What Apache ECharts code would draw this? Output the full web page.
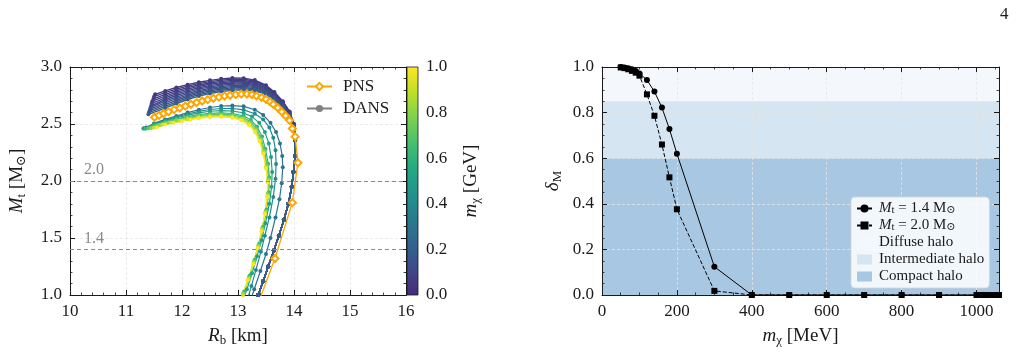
<!DOCTYPE html>
<html>
<head>
<meta charset="utf-8">
<script src="https://cdn.jsdelivr.net/npm/echarts@6/dist/echarts.min.js"></script>
<style>
  html, body { margin: 0; padding: 0; background: #fff; }
  #chart { width: 1021px; height: 356px; }
</style>
</head>
<body>
<div id="chart"></div>
<script>
// ---------- left panel: M_t vs R_b ----------
// dark-matter particle mass of each DANS curve [GeV]
const dansMass = [0.05, 0.06, 0.07, 0.08, 0.09, 0.10, 0.12, 0.14, 0.16, 0.18, 0.20,
                  0.30, 0.40, 0.50, 0.60, 0.70, 0.80, 0.90, 1.00];

// [R_b km, M_t Msun], upper branch of the halo curves (m <= 0.2 GeV)
const dans005 = [[11.52,2.76],[11.7,2.79],[11.9,2.82],[12.1,2.845],[12.3,2.866],[12.5,2.883],[12.7,2.896],[12.9,2.904],[13.1,2.902],[13.3,2.885],[13.5,2.84],[13.65,2.78],[13.8,2.70],[13.92,2.61],[14.0,2.50]];
const dans006 = [[11.50,2.74],[11.7,2.775],[11.9,2.806],[12.1,2.832],[12.3,2.854],[12.5,2.872],[12.7,2.885],[12.9,2.893],[13.1,2.892],[13.3,2.876],[13.5,2.832],[13.65,2.773],[13.8,2.694],[13.92,2.605],[14.0,2.497]];
const dans007 = [[11.49,2.72],[11.7,2.76],[11.9,2.792],[12.1,2.819],[12.3,2.842],[12.5,2.86],[12.7,2.874],[12.9,2.882],[13.1,2.882],[13.3,2.866],[13.5,2.824],[13.65,2.766],[13.8,2.688],[13.92,2.60],[14.0,2.494]];
const dans008 = [[11.47,2.70],[11.7,2.745],[11.9,2.778],[12.1,2.806],[12.3,2.83],[12.5,2.849],[12.7,2.863],[12.9,2.871],[13.1,2.871],[13.3,2.857],[13.5,2.816],[13.65,2.759],[13.8,2.682],[13.92,2.595],[14.0,2.491]];
const dans009 = [[11.46,2.68],[11.7,2.73],[11.9,2.764],[12.1,2.793],[12.3,2.818],[12.5,2.837],[12.7,2.852],[12.9,2.86],[13.1,2.861],[13.3,2.847],[13.5,2.808],[13.65,2.752],[13.8,2.676],[13.92,2.59],[14.0,2.488]];
const dans010 = [[11.45,2.66],[11.7,2.715],[11.9,2.75],[12.1,2.78],[12.3,2.806],[12.5,2.826],[12.7,2.841],[12.9,2.85],[13.1,2.851],[13.3,2.838],[13.5,2.80],[13.65,2.745],[13.8,2.67],[13.92,2.585],[14.0,2.485]];
const dans012 = [[11.44,2.645],[11.7,2.70],[11.9,2.736],[12.1,2.767],[12.3,2.793],[12.5,2.814],[12.7,2.829],[12.9,2.839],[13.1,2.841],[13.3,2.828],[13.5,2.792],[13.65,2.738],[13.8,2.664],[13.92,2.58],[14.0,2.482]];
const dans014 = [[11.43,2.63],[11.7,2.685],[11.9,2.722],[12.1,2.754],[12.3,2.781],[12.5,2.803],[12.7,2.818],[12.9,2.828],[13.1,2.831],[13.3,2.819],[13.5,2.784],[13.65,2.731],[13.8,2.658],[13.92,2.575],[14.0,2.479]];
const dans016 = [[11.42,2.615],[11.7,2.67],[11.9,2.708],[12.1,2.741],[12.3,2.769],[12.5,2.791],[12.7,2.807],[12.9,2.817],[13.1,2.82],[13.3,2.809],[13.5,2.776],[13.65,2.724],[13.8,2.652],[13.92,2.57],[14.0,2.476]];
const dans018 = [[11.41,2.60],[11.7,2.655],[11.9,2.694],[12.1,2.728],[12.3,2.757],[12.5,2.78],[12.7,2.796],[12.9,2.806],[13.1,2.81],[13.3,2.80],[13.5,2.768],[13.65,2.717],[13.8,2.646],[13.92,2.565],[14.0,2.473]];
const dans020 = [[11.40,2.585],[11.7,2.64],[11.9,2.68],[12.1,2.715],[12.3,2.745],[12.5,2.768],[12.7,2.785],[12.9,2.795],[13.1,2.80],[13.3,2.79],[13.5,2.76],[13.65,2.71],[13.8,2.64],[13.92,2.56],[14.0,2.47]];
// lower branch shared by the light-particle curves (they overlap there)
const haloLowerBranch = [[14.02,2.36],[14.02,2.22],[13.99,2.08],[13.96,1.95],[13.90,1.80],[13.82,1.66],[13.73,1.52],[13.64,1.39],[13.54,1.25],[13.45,1.12],[13.36,1.00],[13.26,0.88]];

// core-like curves (m >= 0.3 GeV)
const dans030 = [[11.36,2.47],[11.5,2.505],[11.7,2.54],[11.9,2.57],[12.1,2.60],[12.3,2.625],[12.5,2.645],[12.7,2.658],[12.9,2.662],[13.1,2.655],[13.3,2.625],[13.45,2.58],[13.58,2.51],[13.68,2.43],[13.75,2.33],[13.79,2.22],[13.80,2.12],[13.78,1.98],[13.74,1.84],[13.67,1.68],[13.58,1.50],[13.50,1.36],[13.40,1.21],[13.29,1.05],[13.22,0.95]];
const dans040 = [[11.32,2.462],[11.5,2.50],[11.7,2.533],[11.9,2.562],[12.1,2.588],[12.3,2.61],[12.5,2.627],[12.7,2.636],[12.9,2.636],[13.1,2.624],[13.3,2.59],[13.45,2.54],[13.56,2.47],[13.63,2.38],[13.67,2.27],[13.68,2.15],[13.67,2.02],[13.63,1.86],[13.56,1.68],[13.48,1.52],[13.41,1.38],[13.32,1.22],[13.24,1.08],[13.18,0.98]];
const dans050 = [[11.31,2.46],[11.5,2.497],[11.7,2.528],[11.9,2.555],[12.1,2.578],[12.3,2.598],[12.5,2.612],[12.7,2.618],[12.9,2.614],[13.1,2.597],[13.25,2.565],[13.38,2.51],[13.48,2.43],[13.55,2.33],[13.59,2.21],[13.61,2.08],[13.60,1.95],[13.56,1.80],[13.49,1.63],[13.42,1.48],[13.34,1.34],[13.25,1.19],[13.16,1.05],[13.09,0.96]];
const dans060 = [[11.35,2.458],[11.5,2.49],[11.7,2.52],[11.9,2.545],[12.1,2.566],[12.3,2.583],[12.5,2.594],[12.7,2.598],[12.9,2.592],[13.1,2.572],[13.23,2.535],[13.34,2.475],[13.43,2.39],[13.49,2.28],[13.54,2.15],[13.56,2.03],[13.55,1.90],[13.51,1.75],[13.45,1.60],[13.38,1.45],[13.30,1.31],[13.21,1.17],[13.11,1.03],[13.05,0.94]];
const dans070 = [[11.40,2.462],[11.55,2.49],[11.7,2.513],[11.9,2.538],[12.1,2.558],[12.3,2.574],[12.5,2.584],[12.7,2.587],[12.9,2.580],[13.1,2.558],[13.22,2.52],[13.33,2.46],[13.41,2.375],[13.47,2.27],[13.52,2.14],[13.55,2.02],[13.54,1.89],[13.50,1.74],[13.44,1.59],[13.37,1.44],[13.29,1.30],[13.20,1.16],[13.10,1.02],[13.04,0.93]];
const dans080 = [[11.45,2.466],[11.6,2.492],[11.75,2.512],[11.9,2.53],[12.1,2.55],[12.3,2.565],[12.5,2.575],[12.7,2.578],[12.9,2.57],[13.1,2.547],[13.21,2.508],[13.32,2.45],[13.40,2.365],[13.46,2.26],[13.51,2.13],[13.54,2.01],[13.53,1.88],[13.49,1.73],[13.43,1.58],[13.36,1.43],[13.28,1.29],[13.19,1.15],[13.09,1.01],[13.02,0.92]];
const dans090 = [[11.50,2.47],[11.65,2.495],[11.8,2.513],[11.95,2.528],[12.1,2.542],[12.3,2.557],[12.5,2.567],[12.7,2.57],[12.9,2.562],[13.08,2.538],[13.2,2.50],[13.31,2.44],[13.39,2.355],[13.45,2.25],[13.50,2.12],[13.535,2.0],[13.525,1.87],[13.485,1.72],[13.425,1.57],[13.36,1.42],[13.28,1.28],[13.19,1.14],[13.09,1.0],[13.02,0.91]];
const dans100 = [[11.55,2.472],[11.7,2.495],[11.85,2.512],[12.0,2.526],[12.15,2.538],[12.3,2.55],[12.5,2.56],[12.7,2.563],[12.9,2.555],[13.06,2.53],[13.2,2.49],[13.3,2.43],[13.38,2.35],[13.45,2.24],[13.50,2.11],[13.53,1.99],[13.52,1.86],[13.48,1.71],[13.42,1.56],[13.35,1.41],[13.27,1.27],[13.17,1.13],[13.07,0.99],[13.00,0.90]];

const haloCurves = [dans005, dans006, dans007, dans008, dans009, dans010, dans012, dans014, dans016, dans018, dans020];
const coreCurves = [dans030, dans040, dans050, dans060, dans070, dans080, dans090, dans100];

// pure neutron star
const pnsCurve = [[11.51,2.559],[11.59,2.576],[11.67,2.592],[11.76,2.608],[11.86,2.626],[11.96,2.641],[12.06,2.657],[12.16,2.673],[12.26,2.688],[12.36,2.702],[12.46,2.714],[12.56,2.726],[12.66,2.736],[12.76,2.745],[12.86,2.752],[12.96,2.758],[13.06,2.762],[13.16,2.763],[13.25,2.757],[13.33,2.746],[13.42,2.733],[13.50,2.717],[13.57,2.696],[13.63,2.673],[13.71,2.642],[13.78,2.608],[13.85,2.572],[13.92,2.532],[13.97,2.46],[14.02,2.389],[14.07,2.16],[13.97,1.81],[13.66,1.32],[13.34,0.9]];

const refMasses = [2.0, 1.4];

// ---------- right panel: delta_M vs m_chi ----------
const mChiMeV = [50, 60, 70, 80, 90, 100, 120, 140, 160, 180, 200, 300, 400, 500, 600, 700, 800, 900, 1000, 1015, 1030, 1045, 1060];
const delta14 = [1.0, 0.998, 0.995, 0.99, 0.983, 0.972, 0.943, 0.892, 0.822, 0.728, 0.62, 0.124, 0, 0, 0, 0, 0, 0, 0, 0, 0, 0, 0];
const delta20 = [0.998, 0.995, 0.99, 0.983, 0.975, 0.962, 0.88, 0.786, 0.66, 0.516, 0.376, 0.018, 0, 0, 0, 0, 0, 0, 0, 0, 0, 0, 0];

const haloNames = ['Diffuse halo', 'Intermediate halo', 'Compact halo'];
const haloLimits = [[0.85, 1.0], [0.6, 0.85], [0.0, 0.6]];
const haloColors = ['#f4f7fb', '#d5e5f2', '#a7c7e2'];

const FONT = '"Liberation Serif", "DejaVu Serif", serif';
const INK = '#1a1a1a';

// viridis, starting a little above its darkest end (as in the figure)
const viridisStops = ['#440154','#482475','#414487','#355f8d','#2a788e','#21918c','#22a884','#44bf70','#7ad151','#bddf26','#fde725'];
const cmapStart = 0.12;
function hexRgb(h) {
  return [parseInt(h.slice(1,3),16), parseInt(h.slice(3,5),16), parseInt(h.slice(5,7),16)];
}
function viridis(t) {
  const x = Math.max(0, Math.min(1, t)) * 10;
  const i = Math.min(9, Math.floor(x)), f = x - i;
  const a = hexRgb(viridisStops[i]), b = hexRgb(viridisStops[i + 1]);
  const c = a.map((v, k) => Math.round(v + (b[k] - v) * f));
  return 'rgb(' + c.join(',') + ')';
}
function cmap(t) { return viridis(cmapStart + (1 - cmapStart) * t); }

const subRich = {
  i: {fontFamily: FONT, fontSize: 19, fontStyle: 'italic', color: INK, lineHeight: 22},
  n: {fontFamily: FONT, fontSize: 19, color: INK, lineHeight: 22},
  s: {fontFamily: FONT, fontSize: 13, color: INK, lineHeight: 12, verticalAlign: 'bottom'}
};

function frameAxis(grid, pos, min, max, interval, minorSplit, showLabel, fmt, extra) {
  const ax = {
    type: 'value', gridIndex: grid, position: pos, min: min, max: max, interval: interval,
    axisLine: {show: true, onZero: false, lineStyle: {color: INK, width: 1}},
    axisTick: {show: true, inside: true, length: 5, lineStyle: {color: INK, width: 1}},
    minorTick: {show: true, splitNumber: minorSplit, length: 2.5, lineStyle: {color: INK, width: 0.8}},
    axisLabel: {show: showLabel, margin: 8, fontFamily: FONT, fontSize: 17, color: INK, formatter: fmt},
    splitLine: {show: false}
  };
  return Object.assign(ax, extra || {});
}

const gridLine = {show: true, lineStyle: {color: '#e4e4e4', type: [3, 2], width: 0.8}};

const series = [];

// DANS curves, coloured by m_chi
const allCurves = haloCurves.map(c => c.concat(haloLowerBranch)).concat(coreCurves);
allCurves.forEach((pts, k) => {
  const col = cmap(dansMass[k]);
  const light = dansMass[k] < 0.3;
  series.push({
    name: 'dans_' + dansMass[k], type: 'line', xAxisIndex: 0, yAxisIndex: 0,
    data: pts, symbol: 'circle', symbolSize: 4, clip: true, silent: true,
    lineStyle: {color: col, width: light ? 1.4 : 1.2}, itemStyle: {color: col}, z: 3
  });
});

// legend-only series for DANS
series.push({
  name: 'DANS', type: 'line', xAxisIndex: 0, yAxisIndex: 0, data: [],
  symbol: 'circle', symbolSize: 4, lineStyle: {color: '#808080', width: 1.2}, itemStyle: {color: '#808080'}
});

series.push({
  name: 'PNS', type: 'line', xAxisIndex: 0, yAxisIndex: 0, data: pnsCurve,
  symbol: 'emptyDiamond', symbolSize: 7, clip: true, silent: true, z: 6,
  lineStyle: {color: '#ffa500', width: 1.3},
  itemStyle: {color: '#ffa500', borderWidth: 1.3},
  markLine: {
    silent: true, symbol: ['none', 'none'],
    lineStyle: {color: '#8a8a8a', type: [4, 3], width: 1},
    label: {position: 'insideStartTop', formatter: '{b}', color: '#8a8a8a', fontFamily: FONT, fontSize: 16, distance: [14, 3]},
    data: refMasses.map(v => ({yAxis: v, name: v.toFixed(1)}))
  }
});

// halo-type bands
haloNames.forEach((nm, k) => {
  series.push({
    name: nm, type: 'line', xAxisIndex: 2, yAxisIndex: 2, data: [], z: 1,
    itemStyle: {color: haloColors[k]}, lineStyle: {color: haloColors[k]},
    markArea: {
      silent: true, itemStyle: {color: haloColors[k], opacity: 1},
      data: [[{xAxis: 0, yAxis: haloLimits[k][0]}, {xAxis: 1060, yAxis: haloLimits[k][1]}]]
    }
  });
});

series.push({
  name: 'M14', type: 'line', xAxisIndex: 2, yAxisIndex: 2, z: 5,
  data: mChiMeV.map((m, i) => [m, delta14[i]]),
  symbol: 'circle', symbolSize: 6, clip: false,
  lineStyle: {color: '#000', width: 1}, itemStyle: {color: '#000'}
});
series.push({
  name: 'M20', type: 'line', xAxisIndex: 2, yAxisIndex: 2, z: 5,
  data: mChiMeV.map((m, i) => [m, delta20[i]]),
  symbol: 'rect', symbolSize: 6, clip: false,
  lineStyle: {color: '#000', width: 1, type: [4, 2]}, itemStyle: {color: '#000'}
});

const f1 = v => v.toFixed(1);
const f0 = v => String(Math.round(v));

const option = {
  animation: false,
  backgroundColor: '#fff',
  grid: [
    {left: 70, top: 67, width: 336, height: 228},
    {left: 602, top: 67, width: 397, height: 228},
    {left: 407, top: 67, width: 11, height: 228, show: true, borderColor: INK, borderWidth: 0.8,
     backgroundColor: new echarts.graphic.LinearGradient(0, 1, 0, 0,
       Array.from({length: 21}, (_, i) => ({offset: i / 20, color: cmap(i / 20)})))}
  ],
  xAxis: [
    frameAxis(0, 'bottom', 10, 16, 1, 5, true, f0, {
      splitLine: gridLine, nameLocation: 'middle', nameGap: 30,
      name: '{i|R}{s|b}{n| [km]}', nameTextStyle: {rich: subRich}
    }),
    frameAxis(0, 'top', 10, 16, 1, 5, false, f0),
    frameAxis(1, 'bottom', 0, 1060, 200, 4, true, f0, {
      z: 3, splitLine: gridLine, nameLocation: 'middle', nameGap: 30,
      name: '{i|m}{s|χ}{n| [MeV]}', nameTextStyle: {rich: subRich}
    }),
    frameAxis(1, 'top', 0, 1060, 200, 4, false, f0, {z: 3}),
    {type: 'value', gridIndex: 2, min: 0, max: 1, show: false}
  ],
  yAxis: [
    frameAxis(0, 'left', 1, 3, 0.5, 5, true, f1, {
      splitLine: gridLine, nameLocation: 'middle', nameGap: 42, nameRotate: 90,
      name: '{i|M}{s|t}{n| [M}{s|⊙}{n|]}', nameTextStyle: {rich: subRich}
    }),
    frameAxis(0, 'right', 1, 3, 0.5, 5, false, f1),
    frameAxis(1, 'left', 0, 1, 0.2, 4, true, f1, {
      z: 3, splitLine: gridLine, nameLocation: 'middle', nameGap: 38, nameRotate: 90,
      name: '{i|δ}{s|M}', nameTextStyle: {rich: subRich}
    }),
    frameAxis(1, 'right', 0, 1, 0.2, 4, false, f1, {z: 3}),
    frameAxis(2, 'right', 0, 1, 0.2, 4, true, f1, {
      axisLine: {show: false},
      axisTick: {show: true, inside: true, length: 4, lineStyle: {color: INK, width: 0.8}},
      minorTick: {show: true, splitNumber: 4, length: 2, lineStyle: {color: INK, width: 0.6}},
      nameLocation: 'middle', nameGap: 42, nameRotate: 90,
      name: '{i|m}{s|χ}{n| [GeV]}', nameTextStyle: {rich: subRich}
    })
  ],
  legend: [
    {
      data: ['PNS', 'DANS'], orient: 'vertical', left: 306, top: 78, padding: 0,
      itemWidth: 25, itemHeight: 9, itemGap: 5,
      textStyle: {fontFamily: FONT, fontSize: 17, color: INK, padding: [0, 0, 0, 6]}
    },
    {
      data: [
        {name: 'M14'}, {name: 'M20'},
        {name: haloNames[0], icon: 'rect'}, {name: haloNames[1], icon: 'rect'}, {name: haloNames[2], icon: 'rect'}
      ],
      orient: 'vertical', left: 851, top: 197, padding: [4, 5, 4, 5],
      itemWidth: 15, itemHeight: 10, itemGap: 2,
      backgroundColor: 'rgba(255,255,255,0.85)', borderColor: 'rgba(215,215,215,0.8)', borderWidth: 1, borderRadius: 4,
      formatter: function (name) {
        if (name === 'M14') return '{i|M}{s|t}{n| = 1.4 M}{s|⊙}';
        if (name === 'M20') return '{i|M}{s|t}{n| = 2.0 M}{s|⊙}';
        return '{n|' + name + '}';
      },
      textStyle: {
        padding: [0, 0, 0, 2],
        rich: {
          i: {fontFamily: FONT, fontSize: 15, fontStyle: 'italic', color: INK, lineHeight: 15},
          n: {fontFamily: FONT, fontSize: 15, color: INK, lineHeight: 15},
          s: {fontFamily: FONT, fontSize: 11, color: INK, lineHeight: 9, verticalAlign: 'bottom'}
        }
      }
    }
  ],
  graphic: [
    {type: 'text', left: 1000, top: 6, style: {text: '4', fontFamily: FONT, fontSize: 17, fill: INK}}
  ],
  series: series
};

const chart = echarts.init(document.getElementById('chart'), null, {renderer: 'canvas'});
chart.setOption(option);
</script>
</body>
</html>
